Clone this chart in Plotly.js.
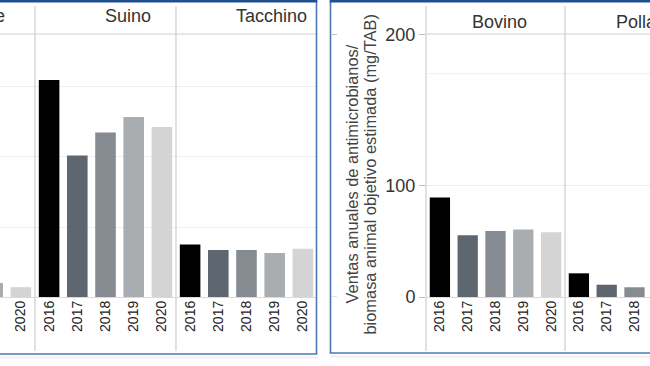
<!DOCTYPE html>
<html>
<head>
<meta charset="utf-8">
<script src="https://cdn.plot.ly/plotly-3.0.1.min.js"></script>
<style>html,body{margin:0;padding:0;background:#fff}#chart{width:650px;height:366px}</style>
</head>
<body>
<div id="chart"></div>
<script>
// ---- data ----
const years = ['2016','2017','2018','2019','2020'];
// left panel (partially visible facets)
const leftPollameYears = ['2019','2020'];
const leftPollameValues = [20, 14];
const suinoValues = [310, 202, 235, 257, 243];
const tacchinoValues = [75, 67, 67, 63, 69];
// right panel
const bovinoValues = [89, 55.4, 59.2, 60.4, 58];
const rightPollameYears = ['2016','2017','2018'];
const rightPollameValues = [21.2, 11, 8.7];
// facet titles
const facetTitles = ['Pollame', 'Suino', 'Tacchino', 'Bovino', 'Pollame'];
// right panel axis ticks
const yTickVals = [0, 100, 235];
const yTickText = ['0', '100', '200'];
const yExtraGrid = [200];
const yTitleLines = ['Ventas anuales de antimicrobianos/', 'biomasa animal objetivo estimada (mg/TAB)'];

// ---- style ----
const W = 650, H = 366;
const px = x => x / W;
const py = y => 1 - y / H;
const yearColor = {'2016':'#000000','2017':'#5e6670','2018':'#858b90','2019':'#aaadaf','2020':'#d4d4d4'};
const FONT = 'Liberation Sans, Arial, sans-serif';

function barTrace(xs, ys, xa, ya) {
  return {
    type: 'bar', x: xs, y: ys, xaxis: xa, yaxis: ya,
    marker: {color: xs.map(y => yearColor[y]), line: {width: 0}},
    hoverinfo: 'x+y', showlegend: false
  };
}

const traces = [
  barTrace(leftPollameYears, leftPollameValues, 'x', 'y'),
  barTrace(years, suinoValues, 'x2', 'y'),
  barTrace(years, tacchinoValues, 'x3', 'y'),
  barTrace(years, bovinoValues, 'x4', 'y2'),
  barTrace(rightPollameYears, rightPollameValues, 'x5', 'y2')
];

const plotTop = 34, plotZero = 297;
const xBase = {
  type: 'category', categoryorder: 'array', categoryarray: years,
  showgrid: false, zeroline: false, showline: false, ticks: '',
  tickangle: -90, tickfont: {family: FONT, size: 14, color: '#222'},
  fixedrange: true
};
const layout = {
  width: W, height: H,
  margin: {l: 0, r: 0, t: 0, b: 0, pad: 0},
  paper_bgcolor: '#ffffff', plot_bgcolor: 'rgba(0,0,0,0)',
  bargap: 0.27,
  font: {family: FONT, color: '#333'},
  xaxis: Object.assign({}, xBase, {domain: [0, px(35)], range: [3.259, 4.5], anchor: 'y'}),
  xaxis2: Object.assign({}, xBase, {domain: [px(35), px(176)], range: [-0.5, 4.5], anchor: 'y'}),
  xaxis3: Object.assign({}, xBase, {domain: [px(176), px(317)], range: [-0.5, 4.5], anchor: 'y'}),
  xaxis4: Object.assign({}, xBase, {domain: [px(426), px(565)], range: [-0.5, 4.5], anchor: 'y2'}),
  xaxis5: Object.assign({}, xBase, {domain: [px(565), 1], range: [-0.5, 2.558], anchor: 'y2'}),
  yaxis: {
    domain: [py(plotZero), py(plotTop)], range: [0, 375.7], anchor: 'x',
    dtick: 100, showticklabels: false, ticks: '',
    showgrid: true, gridcolor: '#eeeeee', gridwidth: 1,
    zeroline: true, zerolinecolor: '#dadada', zerolinewidth: 1,
    showline: false, fixedrange: true
  },
  yaxis2: {
    domain: [py(plotZero), py(plotTop)], range: [0, 235.5], anchor: 'x4',
    tickmode: 'array', tickvals: yTickVals, ticktext: yTickText,
    tickfont: {family: FONT, size: 18, color: '#333'},
    ticks: 'outside', ticklen: 6, tickwidth: 1, tickcolor: '#bdbdbd',
    showgrid: true, gridcolor: '#eeeeee', gridwidth: 1,
    zeroline: true, zerolinecolor: '#dadada', zerolinewidth: 1,
    showline: false, fixedrange: true
  },
  shapes: [],
  annotations: []
};

const sepColor = '#d2d2d2';
// extra gridline(s) in the right panel
yExtraGrid.forEach(v => layout.shapes.push({
  type: 'line', xref: 'paper', yref: 'y2', x0: px(426), x1: 1, y0: v, y1: v,
  line: {color: '#eeeeee', width: 1}, layer: 'below'
}));
// facet separators
[35, 176, 426, 565].forEach(x => layout.shapes.push({
  type: 'line', xref: 'paper', yref: 'paper', x0: px(x), x1: px(x), y0: py(6), y1: py(351),
  line: {color: sepColor, width: 1.3}
}));
// header lines
layout.shapes.push({type: 'line', xref: 'paper', yref: 'paper', x0: 0, x1: px(316), y0: py(34), y1: py(34), line: {color: '#cfcfcf', width: 1.2}});
layout.shapes.push({type: 'line', xref: 'paper', yref: 'paper', x0: px(426), x1: 1, y0: py(34), y1: py(34), line: {color: '#cfcfcf', width: 1.2}});
// small marks at the left edge of the right panel
[0, 235].forEach(v => layout.shapes.push({type: 'line', xref: 'paper', yref: 'y2', x0: px(332), x1: px(337), y0: v, y1: v, line: {color: '#c4c4c4', width: 1}}));
// panel frames
const frameBlue = '#4a78b3', topBlue = '#1f4f8f';
layout.shapes.push({type: 'line', xref: 'paper', yref: 'paper', x0: px(316.5), x1: px(316.5), y0: py(1), y1: py(354), line: {color: frameBlue, width: 1.6}});
layout.shapes.push({type: 'line', xref: 'paper', yref: 'paper', x0: 0, x1: px(317.3), y0: py(354), y1: py(354), line: {color: frameBlue, width: 1.6}});
layout.shapes.push({type: 'line', xref: 'paper', yref: 'paper', x0: px(330.5), x1: px(330.5), y0: py(1), y1: py(353), line: {color: frameBlue, width: 1.6}});
layout.shapes.push({type: 'line', xref: 'paper', yref: 'paper', x0: px(329.7), x1: 1, y0: py(353), y1: py(353), line: {color: frameBlue, width: 1.6}});
layout.shapes.push({type: 'line', xref: 'paper', yref: 'paper', x0: 0, x1: px(317.3), y0: py(1), y1: py(1), line: {color: topBlue, width: 3}});
layout.shapes.push({type: 'line', xref: 'paper', yref: 'paper', x0: px(329.7), x1: 1, y0: py(1), y1: py(1), line: {color: topBlue, width: 3}});
// faint shadows
layout.shapes.push({type: 'line', xref: 'paper', yref: 'paper', x0: 0, x1: px(318), y0: py(357.5), y1: py(357.5), line: {color: '#ececec', width: 1.5}});
layout.shapes.push({type: 'line', xref: 'paper', yref: 'paper', x0: px(330), x1: 1, y0: py(356.5), y1: py(356.5), line: {color: '#ececec', width: 1.5}});

// facet titles (measured positions)
const titlePos = [[7, 16.5, 'right'], [128, 16.5, 'center'], [271.5, 16.5, 'center'], [499, 21.5, 'center'], [614, 21.5, 'left']];
facetTitles.forEach((t, i) => layout.annotations.push({
  text: t, xref: 'paper', yref: 'paper', x: px(titlePos[i][0]), y: py(titlePos[i][1]),
  xanchor: titlePos[i][2], yanchor: 'middle', showarrow: false,
  font: {family: FONT, size: 18, color: '#333'}
}));
// y axis title (right panel), two lines
const titleX = [352, 370];
yTitleLines.forEach((t, i) => layout.annotations.push({
  text: t, xref: 'paper', yref: 'paper', x: px(titleX[i]), y: py(174.5),
  xanchor: 'center', yanchor: 'middle', textangle: -90, showarrow: false,
  font: {family: FONT, size: 16.4, color: '#444'}
}));

Plotly.newPlot('chart', traces, layout, {displayModeBar: false, staticPlot: true});
</script>
</body>
</html>
